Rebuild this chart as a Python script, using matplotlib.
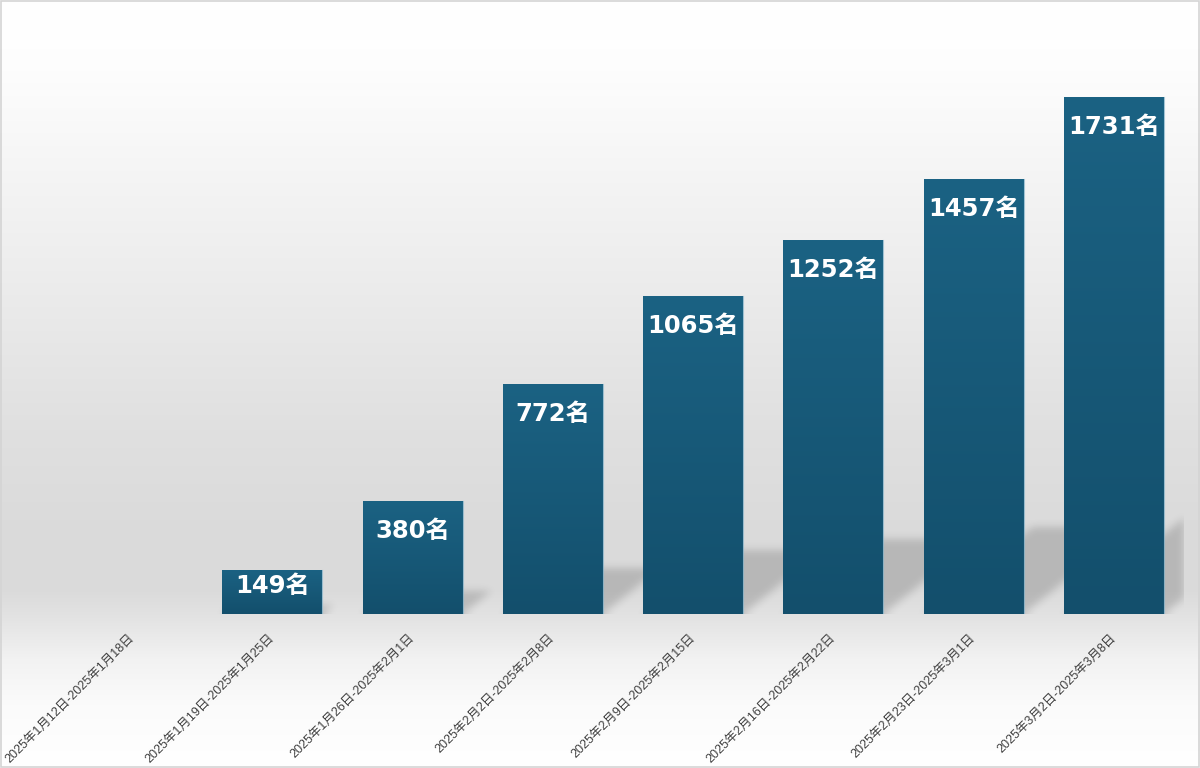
import matplotlib
matplotlib.use("Agg")
import matplotlib.pyplot as plt
import numpy as np
from matplotlib.patches import Rectangle
from matplotlib.colors import LinearSegmentedColormap

categories = [
    "2025年1月12日-2025年1月18日",
    "2025年1月19日-2025年1月25日",
    "2025年1月26日-2025年2月1日",
    "2025年2月2日-2025年2月8日",
    "2025年2月9日-2025年2月15日",
    "2025年2月16日-2025年2月22日",
    "2025年2月23日-2025年3月1日",
    "2025年3月2日-2025年3月8日",
]
values = [0, 149, 380, 772, 1065, 1252, 1457, 1731]
unit = "名"

W, H = 1200, 768
fig = plt.figure(figsize=(W / 100, H / 100), dpi=100)

# background gradient
bg = fig.add_axes([0, 0, 1, 1], zorder=-5)
stops = [(0.0, 1.0), (0.08, 0.995), (0.35, 0.93), (0.55, 0.88), (0.70, 0.855),
         (0.77, 0.858), (0.80, 0.885), (0.86, 0.95), (0.92, 0.985), (1.0, 1.0)]
yy = np.linspace(0, 1, 768)
g = np.interp(yy, [s[0] for s in stops], [s[1] for s in stops])
img = np.repeat(np.repeat(g[:, None, None], 2, axis=1), 3, axis=2)
bg.imshow(img, aspect="auto", extent=[0, 1, 1, 0], interpolation="bilinear")
bg.set_xlim(0, 1); bg.set_ylim(1, 0)
bg.axis("off")

left_px, right_px, top_px, base_px = 62, 1184, 17, 614
ax = fig.add_axes([left_px / W, 1 - base_px / H, (right_px - left_px) / W, (base_px - top_px) / H])
ax.set_facecolor("none")
n = len(values)
x = np.arange(n)
ymax = 2000
ax.set_xlim(-0.5, n - 0.5)
ax.set_ylim(0, ymax)
for s in ax.spines.values():
    s.set_visible(False)
ax.set_yticks([])

aw, ah = right_px - left_px, base_px - top_px
sx = aw / n            # px per category unit
sy = ah / ymax         # px per value unit
bw = 0.713

# perspective shadows rendered as a blurred mask (derived from the bar values)
scale_s, m = 0.2, 0.8
X, Y = np.meshgrid(np.arange(aw) + 0.5, np.arange(ah) + 0.5)
mask = np.zeros((ah, aw))
for xi, v in zip(x, values):
    if v <= 0:
        continue
    hs = scale_s * v * sy
    xl = (xi - bw / 2 + 0.5) * sx
    xr = (xi + bw / 2 + 0.5) * sx
    inside = (Y <= hs) & (X >= xl + Y / m) & (X <= xr + Y / m)
    mask = np.maximum(mask, inside.astype(float))

def blur(a, sigma):
    r = int(3 * sigma)
    k = np.exp(-0.5 * (np.arange(-r, r + 1) / sigma) ** 2)
    k /= k.sum()
    a = np.apply_along_axis(lambda c: np.convolve(c, k, mode="same"), 0, a)
    a = np.apply_along_axis(lambda c: np.convolve(c, k, mode="same"), 1, a)
    return a

pad = 20
padded = np.vstack([mask[:pad][::-1] * 1.0, mask])
bl = blur(padded, 4.0)[pad:]
shadow = np.zeros((ah, aw, 4))
shadow[..., 3] = 0.16 * bl
ax.imshow(shadow, origin="lower", extent=[-0.5, n - 0.5, 0, ymax], aspect="auto", zorder=1,
          interpolation="bilinear")

# bars with vertical gradient
cmap = LinearSegmentedColormap.from_list("bar", ["#134f6c", "#1b6283"])
grad = np.linspace(0, 1, 256)[:, None]
bars = ax.bar(x, values, width=bw, color="#175a79", zorder=2)
for rect, v in zip(bars, values):
    if v <= 0:
        rect.set_visible(False)
        continue
    x0 = rect.get_x()
    im = ax.imshow(grad, cmap=cmap, aspect="auto", origin="lower",
                   extent=[x0, x0 + rect.get_width(), 0, v], zorder=3)
    im.set_clip_path(rect)
    rect.set_facecolor("none")
    ax.plot([x0 + rect.get_width()] * 2, [0, v], color="#7fb0c8", lw=0.8, alpha=0.7, zorder=4)

ax.set_xlim(-0.5, n - 0.5)
ax.set_ylim(0, ymax)

# value labels
for xi, v in zip(x, values):
    if v <= 0:
        continue
    hpx = v * sy
    off = min(30, 0.38 * hpx)
    ax.annotate(f"{v}{unit}", xy=(xi, v), xytext=(0, -off), textcoords="offset pixels",
                ha="center", va="center", color="white", fontsize=17.5, fontweight="bold",
                family=["DejaVu Sans", "Noto Sans CJK SC"], zorder=5)

ax.set_xticks(x)
ax.set_xticklabels(categories, rotation=45, ha="right", va="center", rotation_mode="anchor",
                   fontsize=9, color="#404040", family=["Liberation Sans", "Noto Sans CJK SC"])
ax.tick_params(axis="x", length=0, pad=16)

fig.add_artist(Rectangle((0.0005, 0.0007), 0.999, 0.9986, transform=fig.transFigure,
                         fill=False, edgecolor="#d4d4d4", linewidth=1.2))

fig.savefig("out.png", dpi=100)
